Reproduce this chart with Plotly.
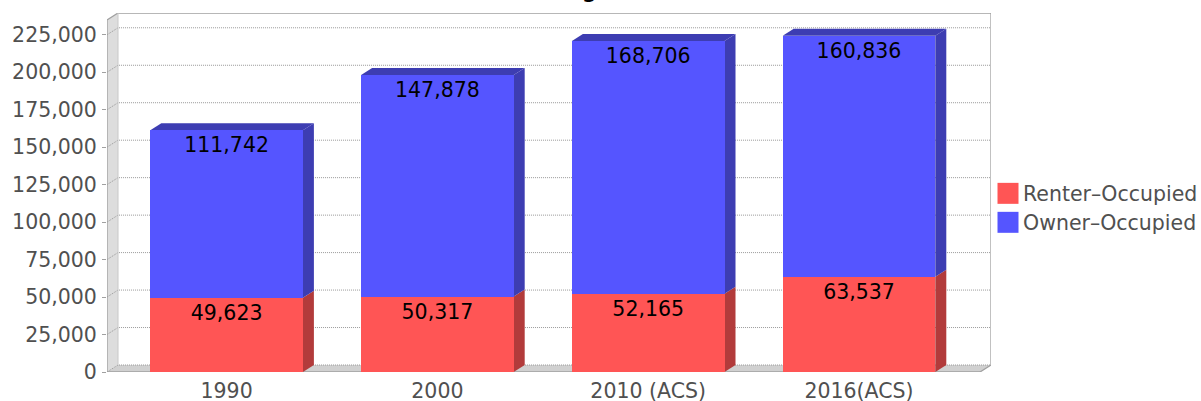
import plotly.graph_objects as go

categories = ["1990", "2000", "2010 (ACS)", "2016(ACS)"]
renter_occupied = [49623, 50317, 52165, 63537]
owner_occupied = [111742, 147878, 168706, 160836]
y_ticks = [0, 25000, 50000, 75000, 100000, 125000, 150000, 175000, 200000, 225000]

BLUE, BLUE_D = "#5555FF", "#3D3DB2"
RED, RED_D = "#FF5555", "#B23B3B"
TEXT = "#505050"
FS = 20.5

# pixel frame of the plot area (front origin at left/bottom, back wall offset by depth)
W, H = 1201, 401
L, T, R, B = 107, 13, 991, 372.3
PX_PER_VAL = 37.5 / 25000
PX_PER_CAT = 210.8
X0_PX = 226.6
DX = 11 / PX_PER_CAT           # depth in category units
DY = 7 / PX_PER_VAL            # depth in value units
BAR_W = 152.6 / PX_PER_CAT
x_lo = (L - X0_PX) / PX_PER_CAT
x_hi = (R - X0_PX) / PX_PER_CAT
y_hi = (B - T) / PX_PER_VAL
x_front_hi = x_hi - DX
xs = list(range(len(categories)))

shapes = []


def poly(pts, fill, line="rgba(0,0,0,0)", width=0):
    path = "M " + " L ".join(f"{a:.5f},{b:.2f}" for a, b in pts) + " Z"
    shapes.append(dict(type="path", path=path, xref="x", yref="y", fillcolor=fill,
                       line=dict(color=line, width=width), layer="below"))


def seg(pts, color, width=1, dash="solid"):
    path = "M " + " L ".join(f"{a:.5f},{b:.2f}" for a, b in pts)
    shapes.append(dict(type="path", path=path, xref="x", yref="y",
                       line=dict(color=color, width=width, dash=dash), layer="below"))


# walls
poly([(x_lo, 0), (x_lo + DX, DY), (x_lo + DX, y_hi), (x_lo, y_hi - DY)], "#DDDDDD")
poly([(x_lo, 0), (x_lo + DX, DY), (x_hi, DY), (x_front_hi, 0)], "#D0D0D0")

# grid lines on the side wall and the back wall
for v in y_ticks:
    seg([(x_lo, v), (x_lo + DX, v + DY), (x_hi, v + DY)], "#999999", 1, "1px,1px")

# frame
seg([(x_lo, 0), (x_lo, y_hi - DY), (x_lo + DX, y_hi), (x_hi, y_hi), (x_hi, DY), (x_front_hi, 0), (x_lo, 0)], "#A0A0A0", 1.3)
seg([(x_lo + DX, DY), (x_lo + DX, y_hi)], "#C8C8C8", 1)

# bar depth faces
for x, r, o in zip(xs, renter_occupied, owner_occupied):
    a, b = x - BAR_W / 2, x + BAR_W / 2
    poly([(b, 0), (b + DX, DY), (b + DX, r + DY), (b, r)], RED_D)
    poly([(b, r), (b + DX, r + DY), (b + DX, r + o + DY), (b, r + o)], BLUE_D)
    poly([(a, r + o), (a + DX, r + o + DY), (b + DX, r + o + DY), (b, r + o)], BLUE_D)

# legend swatches
legend_names = ["Renter\u2013Occupied", "Owner\u2013Occupied"]
legend_colors = [RED, BLUE]
legend_top = [183, 212]
annotations = []
for name, col, top in zip(legend_names, legend_colors, legend_top):
    shapes.append(dict(type="rect", xref="paper", yref="paper",
                       x0=(997.5 - L) / (R - L), x1=(1018.5 - L) / (R - L),
                       y0=(B - top) / (B - T), y1=(B - top - 21) / (B - T),
                       fillcolor=col, line=dict(width=0)))
    annotations.append(dict(text=name, xref="paper", yref="paper", showarrow=False,
                            x=(1021 - L) / (R - L), xanchor="left",
                            y=(B - top - 11) / (B - T), yanchor="middle",
                            font=dict(family="DejaVu Sans", size=FS, color=TEXT)))

# the only part of the title inside the picture: a clipped descender at the top edge
annotations.append(dict(text="<b>g</b>", xref="paper", yref="paper", showarrow=False,
                        x=(589 - L) / (R - L), xanchor="center",
                        y=(B - 5) / (B - T), yanchor="bottom",
                        font=dict(family="DejaVu Sans", size=FS, color="black")))

fig = go.Figure()
fig.add_bar(x=xs, y=renter_occupied, name="Renter-Occupied", marker=dict(color=RED, line=dict(width=0)),
            width=BAR_W, text=[f"{v:,}" for v in renter_occupied])
fig.add_bar(x=xs, y=owner_occupied, name="Owner-Occupied", marker=dict(color=BLUE, line=dict(width=0)),
            width=BAR_W, text=[f"{v:,}" for v in owner_occupied])
fig.update_traces(textposition="inside", insidetextanchor="end", textangle=0,
                  textfont=dict(family="DejaVu Sans", size=FS, color="black"),
                  hoverinfo="skip")

fig.update_layout(
    width=W, height=H, barmode="stack", showlegend=False,
    margin=dict(l=L, t=T, r=W - R, b=H - B, pad=0),
    paper_bgcolor="white", plot_bgcolor="white",
    shapes=shapes, annotations=annotations,
    font=dict(family="DejaVu Sans", size=FS, color=TEXT),
    xaxis=dict(range=[x_lo, x_hi], tickmode="array", tickvals=xs, ticktext=categories,
               showgrid=False, zeroline=False, showline=False, ticks="", automargin=False,
               ticklabelstandoff=4, tickfont=dict(size=FS, color=TEXT)),
    yaxis=dict(range=[0, y_hi], tickmode="array", tickvals=y_ticks, ticktext=[f"{v:,}" for v in y_ticks],
               showgrid=False, zeroline=False, showline=False, ticks="outside", ticklen=4,
               tickcolor="#A0A0A0", tickwidth=1, automargin=False, ticklabelstandoff=1,
               tickfont=dict(size=FS, color=TEXT)),
)
fig.write_html("out.html", config=dict(displayModeBar=False),
               post_script="document.body.style.margin='0';document.body.style.overflow='hidden';")
